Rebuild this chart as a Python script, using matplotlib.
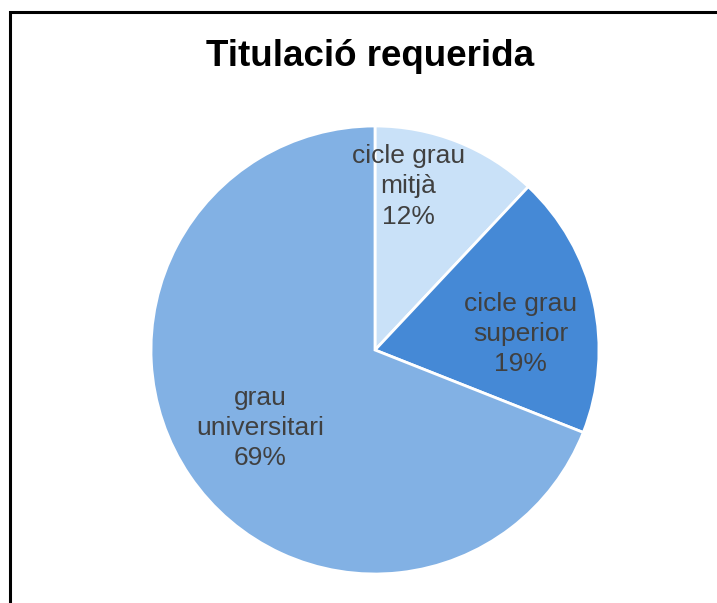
import matplotlib.pyplot as plt
import numpy as np
from matplotlib.patches import Rectangle

plt.rcParams['font.family'] = ['Liberation Sans', 'DejaVu Sans']

# dades
categories = ['cicle grau\nmitjà', 'cicle grau\nsuperior', 'grau\nuniversitari']
valors = [12, 19, 69]
colors = ['#C9E1F8', '#4589D6', '#82B1E4']

W, H = 717, 603
fig = plt.figure(figsize=(W / 100, H / 100), dpi=100)
ax = fig.add_axes([0, 0, 1, 1])

cx, cy, r = 375, H - 350, 224
etiquetes = [f'{c}\n{v}%' for c, v in zip(categories, valors)]
wedges, texts = ax.pie(valors, labels=etiquetes, colors=colors, startangle=90,
                       counterclock=False, center=(cx, cy), radius=r,
                       labeldistance=0.62, frame=True,
                       wedgeprops=dict(edgecolor='white', linewidth=2),
                       textprops=dict(fontsize=19, color='#404040',
                                      ha='center', va='center',
                                      linespacing=1.32))
ax.set_xlim(0, W)
ax.set_ylim(0, H)
ax.set_aspect('equal')
ax.axis('off')

# marc del gràfic (retallat a dreta i a baix)
ax.add_patch(Rectangle((10, -20), W + 20, H - 12 + 20, fill=False,
                       edgecolor='black', linewidth=2.2, zorder=0))

# ajust de les etiquetes (com fa Excel)
texts[0].set_position((cx + 0.15 * r, cy + 0.73 * r))
texts[1].set_position((cx + 0.65 * r, cy + 0.07 * r))

ax.text(370, H - 56, 'Titulació requerida', ha='center', va='center',
        fontsize=26.5, fontweight='bold', color='black')

fig.savefig('out.png', dpi=100)
